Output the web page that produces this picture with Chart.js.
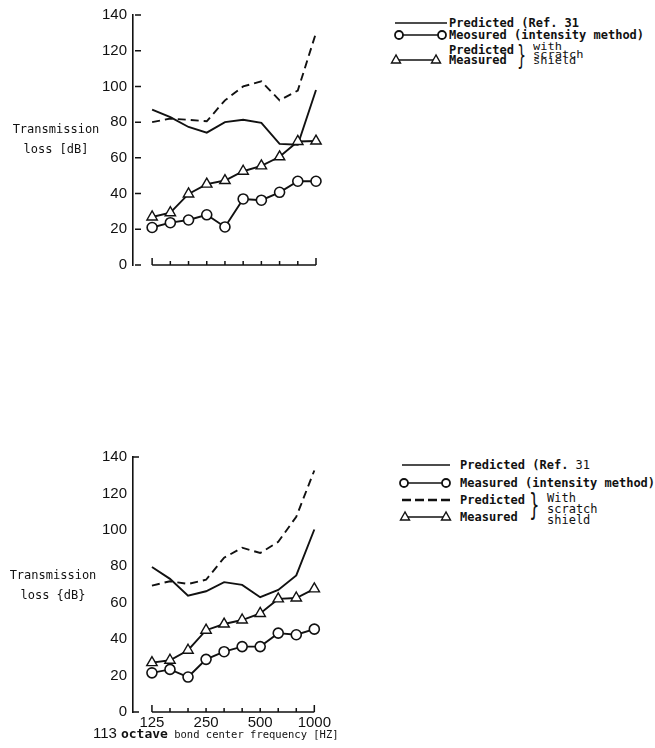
<!DOCTYPE html>
<html>
<head>
<meta charset="utf-8">
<script src="https://cdn.jsdelivr.net/npm/chart.js@4/dist/chart.umd.min.js"></script>
<style>
  body { margin: 0; background: #fff; }
  #page { position: relative; width: 655px; height: 748px; overflow: hidden; background: #fff; color: #111; }
  canvas { position: absolute; }
  .abs { position: absolute; white-space: nowrap; }
  .ylabel { font: 12px "DejaVu Sans Mono", monospace; line-height: 20px; text-align: center; width: 100px; }
  .leg { font: bold 12px "DejaVu Sans Mono", monospace; line-height: 12px; }
  .brace { font: 26px "DejaVu Sans", sans-serif; line-height: 26px; transform: scaleX(0.55); transform-origin: left top; }
  .note { font: 12px "DejaVu Sans Mono", monospace; }
</style>
</head>
<body>
<div id="page">
  <canvas id="topChart" width="240" height="280" style="left:93px;top:0"></canvas>
  <canvas id="bottomChart" width="240" height="312" style="left:93px;top:420px"></canvas>

  <!-- y axis titles -->
  <div class="abs ylabel" style="left:6px;top:119px">Transmission<br>loss [dB]</div>
  <div class="abs ylabel" style="left:3px;top:565px">Transmission<br>loss {dB}</div>

  <!-- x axis title (bottom chart) -->
  <div class="abs" style="left:93px;top:724px;line-height:16px">
    <span style="font:15px 'Liberation Sans Narrow','Liberation Sans',sans-serif">113</span>
    <span style="font:bold 13px 'DejaVu Sans Mono',monospace">octave</span><span style="font:10.5px 'DejaVu Sans Mono',monospace"> bond center frequency [HZ]</span>
  </div>

  <!-- top legend -->
  <svg class="abs" style="left:385px;top:10px" width="70" height="60" viewBox="385 10 70 60">
    <g stroke="#111" fill="#fff">
      <line x1="395" y1="23" x2="447" y2="23" stroke-width="1.6"/>
      <line x1="399" y1="35" x2="442" y2="35" stroke-width="1.6"/>
      <circle cx="399" cy="35" r="4" stroke-width="1.8"/>
      <circle cx="442" cy="35" r="4" stroke-width="1.8"/>
      <line x1="396" y1="60" x2="436" y2="60" stroke-width="1.6"/>
      <polygon points="396,55 391.5,63 400.5,63" stroke-width="1.4"/>
      <polygon points="436,55 431.5,63 440.5,63" stroke-width="1.4"/>
    </g>
  </svg>
  <div class="abs leg" style="left:449px;top:17px">Predicted (Ref. 31</div>
  <div class="abs leg" style="left:449px;top:29px">Meosured (intensity method)</div>
  <div class="abs leg" style="left:449px;top:44px">Predicted</div>
  <div class="abs leg" style="left:449px;top:54px">Measured</div>
  <div class="abs brace" style="left:517px;top:42px">}</div>
  <div class="abs note" style="left:533px;top:44px;line-height:8.5px;transform:scaleY(0.8);transform-origin:left top">with<br>scratch<br>shield</div>

  <!-- bottom legend -->
  <svg class="abs" style="left:390px;top:455px" width="70" height="70" viewBox="390 455 70 70">
    <g stroke="#111" fill="#fff">
      <line x1="402" y1="465" x2="450" y2="465" stroke-width="1.4"/>
      <line x1="404" y1="483" x2="446" y2="483" stroke-width="1.6"/>
      <circle cx="404" cy="483" r="4" stroke-width="1.8"/>
      <circle cx="446" cy="483" r="4" stroke-width="1.8"/>
      <line x1="402" y1="500" x2="450" y2="500" stroke-width="2.4" stroke-dasharray="9,4"/>
      <line x1="405" y1="517" x2="446" y2="517" stroke-width="1.6"/>
      <polygon points="405,512 400.5,520 409.5,520" stroke-width="1.4"/>
      <polygon points="446,512 441.5,520 450.5,520" stroke-width="1.4"/>
    </g>
  </svg>
  <div class="abs leg" style="left:460px;top:459px">Predicted (Ref. <span style="font-weight:normal">31</span></div>
  <div class="abs leg" style="left:460px;top:477px">Measured (intensity method)</div>
  <div class="abs leg" style="left:460px;top:494px">Predicted</div>
  <div class="abs leg" style="left:460px;top:511px">Measured</div>
  <div class="abs brace" style="left:529px;top:492px;font-size:30px">}</div>
  <div class="abs note" style="left:547px;top:493px;line-height:11px">With<br>scratch<br>shield</div>
</div>

<script>
// 1/3 octave band centre frequencies [Hz]
const freqBands = ['125', '160', '200', '250', '315', '400', '500', '630', '800', '1000'];
const labelledBands = ['125', '250', '500', '1000'];
const yTicks = [0, 20, 40, 60, 80, 100, 120, 140];

// upper panel - transmission loss [dB]
const topPredicted       = [87, 82.8, 77.3, 74.1, 80, 81.3, 79.6, 67.8, 67.3, 98];
const topMeasured        = [21, 23.7, 25.2, 28.1, 21.3, 37, 36.3, 40.7, 46.9, 46.9];
const topPredictedShield = [80, 82, 81.3, 80.5, 92.2, 100, 102.8, 92.2, 97.7, 130];
const topMeasuredShield  = [26.9, 29.3, 39.8, 45.3, 47.3, 52.5, 55.5, 60.6, 69.2, 69.4];

// lower panel - transmission loss [dB]
const botPredicted       = [79.6, 73.1, 63.9, 66.3, 71.3, 69.8, 63.0, 67.0, 75.0, 100.2];
const botMeasured        = [21.5, 23.4, 19.2, 28.9, 33.1, 35.9, 35.9, 43.3, 42.4, 45.5];
const botPredictedShield = [69.4, 71.8, 70.3, 72.6, 84.7, 90.2, 87.3, 93.4, 107.2, 132.6];
const botMeasuredShield  = [27.1, 28.4, 33.9, 44.9, 48.3, 50.5, 54.1, 62.1, 62.6, 67.6];

const INK = '#111';
const TICK_FONT = { family: "'Liberation Sans Narrow', 'Liberation Sans', sans-serif", size: 15 };

// turn a value list into {x: bandIndex, y: value}
function toPoints(values) {
    return values.map((v, i) => ({ x: i, y: v }));
}

// hand-drawn style axes: detached frequency axis with upward ticks, inward y ticks
const octaveAxisPlugin = {
    id: 'octaveAxis',
    afterDraw(chart, args, opts) {
        const { ctx, chartArea, scales: { x, y } } = chart;
        const last = freqBands.length - 1;
        const y0 = y.getPixelForValue(0);
        ctx.save();
        ctx.strokeStyle = INK;
        ctx.lineWidth = 1.5;
        ctx.beginPath();
        ctx.moveTo(x.getPixelForValue(0), y0);
        ctx.lineTo(x.getPixelForValue(last), y0);
        freqBands.forEach((f, i) => {
            const px = x.getPixelForValue(i);
            const len = (i === 0 || i === last) ? 7 : 4;
            ctx.moveTo(px, y0);
            ctx.lineTo(px, y0 - len);
        });
        (opts.yTicks || []).forEach(v => {
            const py = y.getPixelForValue(v);
            ctx.moveTo(chartArea.left + (opts.tickGap || 0), py);
            ctx.lineTo(chartArea.left + (opts.tickGap || 0) + 6, py);
        });
        ctx.stroke();
        ctx.restore();
    }
};

function buildDatasets(predicted, measured, predictedShield, measuredShield) {
    const common = { borderColor: INK, borderWidth: 1.9, tension: 0, clip: false, fill: false };
    return [
        Object.assign({}, common, {
            label: 'Measured (intensity method)', data: toPoints(measured),
            pointStyle: 'circle', pointRadius: 5, pointBorderWidth: 1.6,
            pointBackgroundColor: '#fff', pointBorderColor: INK
        }),
        Object.assign({}, common, {
            label: 'Measured with scratch shield', data: toPoints(measuredShield),
            pointStyle: 'triangle', pointRadius: 6, pointBorderWidth: 1.4,
            pointBackgroundColor: '#fff', pointBorderColor: INK
        }),
        Object.assign({}, common, {
            label: 'Predicted (Ref. 31)', data: toPoints(predicted), pointRadius: 0
        }),
        Object.assign({}, common, {
            label: 'Predicted with scratch shield', data: toPoints(predictedShield),
            pointRadius: 0, borderDash: [8, 5]
        })
    ];
}

function makeChart(canvasId, datasets, cfg) {
    return new Chart(document.getElementById(canvasId), {
        type: 'line',
        data: { datasets: datasets },
        options: {
            responsive: false,
            animation: false,
            devicePixelRatio: 1,
            layout: { padding: cfg.padding },
            plugins: {
                legend: { display: false },
                tooltip: { enabled: false },
                octaveAxis: { yTicks: cfg.yAxisTicks, tickGap: cfg.tickGap }
            },
            scales: {
                x: {
                    type: 'linear',
                    min: -1.05,
                    max: freqBands.length - 1,
                    display: cfg.showFreqLabels,
                    grid: { display: false, drawTicks: false },
                    border: { display: false },
                    afterBuildTicks: (scale) => {
                        scale.ticks = labelledBands.map(b => ({ value: freqBands.indexOf(b) }));
                    },
                    afterFit: (scale) => { scale.height = cfg.showFreqLabels ? 18 : 0; },
                    ticks: {
                        font: TICK_FONT,
                        color: INK,
                        padding: 2,
                        maxRotation: 0,
                        autoSkip: false,
                        callback: (v) => freqBands[v]
                    }
                },
                y: {
                    min: 0,
                    max: 140,
                    grid: { display: false, drawTicks: false },
                    border: { display: true, color: INK, width: 1.6 },
                    afterBuildTicks: (scale) => {
                        scale.ticks = yTicks.map(v => ({ value: v }));
                    },
                    afterFit: (scale) => { scale.width = 40; },
                    ticks: { font: TICK_FONT, color: INK, padding: 6 }
                }
            }
        },
        plugins: [octaveAxisPlugin]
    });
}

makeChart('topChart',
    buildDatasets(topPredicted, topMeasured, topPredictedShield, topMeasuredShield),
    { padding: { top: 15, bottom: 14, left: 0, right: 17 }, showFreqLabels: false, yAxisTicks: yTicks, tickGap: 2 });

makeChart('bottomChart',
    buildDatasets(botPredicted, botMeasured, botPredictedShield, botMeasuredShield),
    { padding: { top: 37, bottom: 2, left: 0, right: 18 }, showFreqLabels: true, yAxisTicks: [140, 0], tickGap: 0 });
</script>
</body>
</html>
